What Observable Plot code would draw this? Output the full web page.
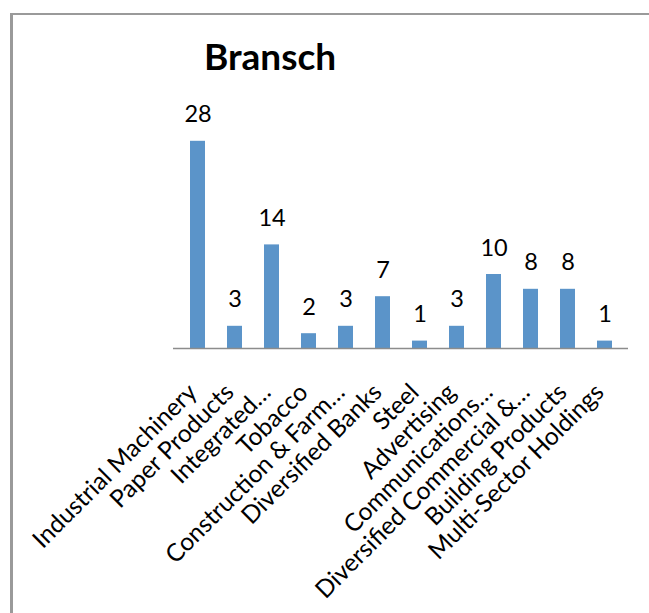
<!DOCTYPE html>
<html>
<head>
<meta charset="utf-8">
<script src="https://cdn.jsdelivr.net/npm/d3@7"></script>
<script src="https://cdn.jsdelivr.net/npm/@observablehq/plot@0.6"></script>
<style>
  html, body { margin: 0; padding: 0; background: #fff; }
  #wrap { position: relative; width: 649px; height: 613px; overflow: hidden; font-family: Lato, "Open Sans", sans-serif; }
  #frame { position: absolute; left: 10px; top: 13px; width: 700px; height: 700px;
           border-left: 3px solid #9a9a9a; border-top: 2px solid #9a9a9a; box-sizing: border-box; }
  #title { position: absolute; left: 270px; top: 37px; transform: translateX(-50%);
           font-size: 37px; font-weight: bold; color: #000; white-space: nowrap; line-height: 1; }
  #chart { position: absolute; left: 0; top: 0; }
</style>
</head>
<body>
<div id="wrap">
  <div id="frame"></div>
  <div id="chart"></div>
  <div id="title">Bransch</div>
</div>
<script>
const categories = ["Industrial Machinery", "Paper Products", "Integrated…", "Tobacco",
  "Construction & Farm…", "Diversified Banks", "Steel", "Advertising",
  "Communications…", "Diversified Commercial &…", "Building Products", "Multi-Sector Holdings"];
const values = [28, 3, 14, 2, 3, 7, 1, 3, 10, 8, 8, 1];

const data = categories.map((c, i) => ({category: c, value: values[i]}));

const chart = Plot.plot({
  width: 649,
  height: 613,
  marginLeft: 173,
  marginRight: 21,
  marginTop: 126,
  marginBottom: 265,
  style: {background: "transparent", fontFamily: "Lato, 'Open Sans', sans-serif"},
  x: {domain: categories, paddingInner: 0.6, paddingOuter: 0.3, axis: null},
  y: {domain: [0, 30], axis: null},
  marks: [
    Plot.barY(data, {x: "category", y: "value", fill: "#5b94c9"}),
    Plot.ruleY([0], {stroke: "#8c8c8c", strokeWidth: 1.5}),
    Plot.text(data, {x: "category", y: "value", text: d => String(d.value),
      lineAnchor: "bottom", dy: -19, fontSize: 23.5, fill: "#000"}),
    Plot.text(data, {x: "category", y: () => 0, text: "category", rotate: -45,
      textAnchor: "end", lineAnchor: "top", dx: -12, dy: 33, fontSize: 24.5, fill: "#000"})
  ]
});
document.getElementById("chart").appendChild(chart);
</script>
</body>
</html>
